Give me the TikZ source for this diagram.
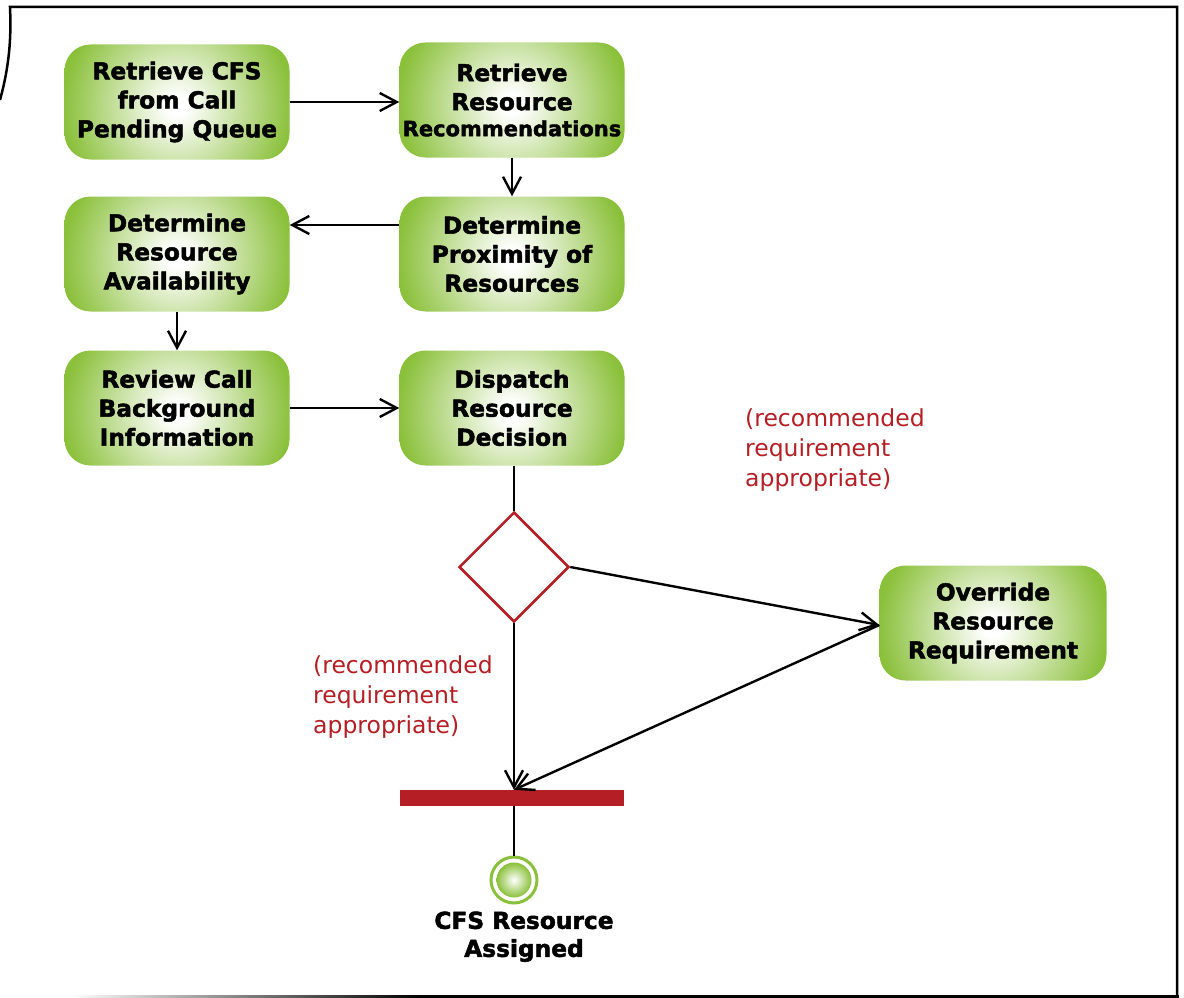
\documentclass[tikz,border=0pt]{standalone}
\usepackage{fontspec}
\setmainfont{DejaVu Sans}[BoldFeatures={FakeBold=2}]
\usetikzlibrary{shapes.geometric,arrows.meta,positioning}
\definecolor{ngreen}{RGB}{138,192,58}
\definecolor{nred}{RGB}{181,30,36}
\pgfdeclareradialshading{actshade}{\pgfpoint{0bp}{0bp}}{%
  color(0bp)=(white); color(2bp)=(white); color(23bp)=(ngreen); color(50bp)=(ngreen)}
\begin{document}
\begin{tikzpicture}[x=1pt,y=-1pt,
  act/.style={rounded corners=26pt, minimum width=225pt, minimum height=115pt,
    inner sep=0pt, align=center,
    path picture={\shade[shading=actshade] ([yshift=-4pt]path picture bounding box.center) circle (125pt);},
    font=\bfseries\fontsize{23.3}{29}\selectfont},
  conn/.style={line width=2.4pt, draw=black},
  arr/.style={conn, -{Straight Barb[length=17pt,width=18pt,line width=2.4pt]}},
  guard/.style={text=nred, align=left, anchor=north west, inner sep=0pt,
    font=\fontsize{23.5}{30}\selectfont}
]
\useasboundingbox (0,0) rectangle (1184,998);
% frame
\draw[line width=2.5pt] (0,100) .. controls (11,60) and (11,30) .. (10,7) -- (1177,7) -- (1177,996);
\shade[left color=white, right color=black] (70,995) rectangle (420,998);
\fill[black] (420,995) rectangle (1179,998);
% activity nodes
\node[act] (n1) at (177,102) {Retrieve CFS\\from Call\\Pending Queue};
\node[act] (n2) at (512,100) {Retrieve\\Resource\\[-3pt]{\fontsize{21}{26}\selectfont Recommendations}};
\node[act] (n3) at (512,254) {Determine\\Proximity of\\Resources};
\node[act] (n4) at (177,254) {Determine\\Resource\\Availability};
\node[act] (n5) at (177,408) {Review Call\\Background\\Information};
\node[act] (n6) at (512,408) {Dispatch\\Resource\\Decision};
\node[act, minimum width=227pt] (n7) at (993,623) {Override\\Resource\\Requirement};
% decision, bar, final
\node[diamond, draw=nred, line width=2.5pt, fill=white, minimum width=110pt, minimum height=110pt, inner sep=0pt] (d) at (514,567) {};
\node[fill=nred, minimum width=224pt, minimum height=16pt, inner sep=0pt] (bar) at (512,798) {};
\node[circle, draw=ngreen, line width=3pt, fill=white, minimum size=46pt, inner sep=0pt] (fin) at (514,880) {};
\shade[inner color=white, outer color=ngreen] (fin.center) circle (17.5pt);
\node[align=center, font=\bfseries\fontsize{23.3}{28}\selectfont, anchor=north] (finl) at (524,908) {CFS Resource\\Assigned};
% connectors
\draw[arr] (n1.east) -- (n1.east -| n2.west);
\draw[arr] (n2.south) -- (n3.north);
\draw[arr] ([yshift=29pt]n3.west) -- ([yshift=29pt]n3.west -| n4.east);
\draw[arr] (n4.south) -- (n5.north);
\draw[arr] (n5.east) -- (n5.east -| n6.west);
\draw[conn] (n6.south -| d.north) -- (d.north);
\draw[arr] (d.east) -- ([yshift=-2pt]n7.west);
\draw[arr] (d.south) -- (d.south |- bar.north);
\draw[arr] ([yshift=-2pt]n7.west) -- (d.south |- bar.north);
\draw[conn] (d.south |- bar.south) -- (fin.north);
% guards
\node[guard] (g1) at (745,408) {(recommended\\requirement\\appropriate)};
\node[guard] (g2) at (313,655) {(recommended\\requirement\\appropriate)};
\end{tikzpicture}
\end{document}
